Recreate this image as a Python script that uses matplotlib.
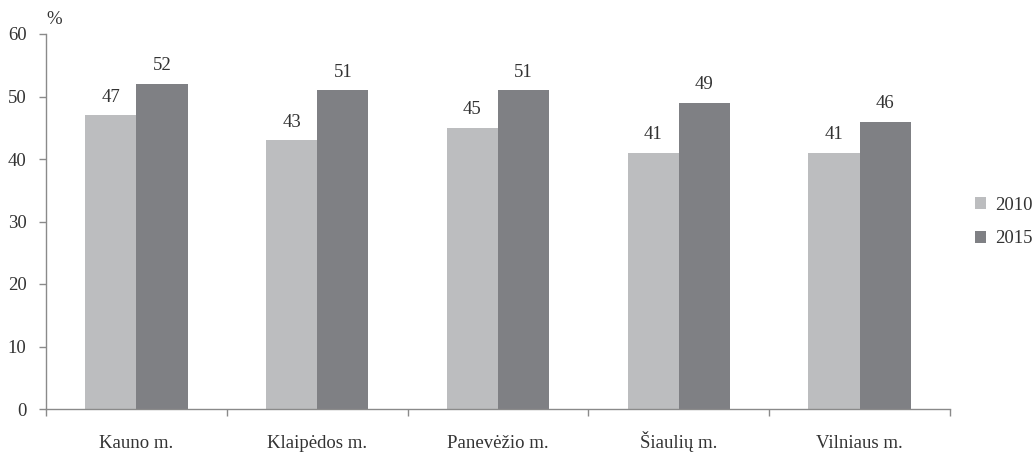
import numpy as np
import matplotlib.pyplot as plt

plt.rcParams['font.family'] = ['Liberation Serif', 'DejaVu Serif']

cities = ["Kauno m.", "Klaipėdos m.", "Panevėžio m.", "Šiaulių m.", "Vilniaus m."]
years = ["2010", "2015"]
vals_2010 = [47, 43, 45, 41, 41]
vals_2015 = [52, 51, 51, 49, 46]

col_2010 = "#bcbdbf"
col_2015 = "#7f8084"
axis_col = "#8a8a8a"
txt_col = "#333333"
fs = 13.5

fig = plt.figure(figsize=(10.32, 4.54), dpi=100)
ax = fig.add_axes([46 / 1032, 1 - 409 / 454, (950 - 46) / 1032, (409 - 34) / 454])

x = np.arange(len(cities))
w = 0.283
b1 = ax.bar(x - w / 2, vals_2010, w, color=col_2010, label=years[0])
b2 = ax.bar(x + w / 2, vals_2015, w, color=col_2015, label=years[1])

for bars, vals in ((b1, vals_2010), (b2, vals_2015)):
    for r, v in zip(bars, vals):
        ax.annotate(str(v), (r.get_x() + r.get_width() / 2, v), xytext=(0, 7),
                    textcoords="offset points", ha="center", va="bottom",
                    fontsize=fs, color=txt_col)

ax.set_xlim(-0.5, len(cities) - 0.5)
ax.set_ylim(0, 60)
ax.set_yticks(range(0, 61, 10))

ax.set_xticks(x)
ax.set_xticklabels(cities, va="baseline")
ax.set_xticks(np.arange(-0.5, len(cities), 1.0), minor=True)
ax.tick_params(axis="x", which="major", length=0, pad=28, labelsize=fs, labelcolor=txt_col)
ax.tick_params(axis="x", which="minor", length=5, width=1, color=axis_col, direction="out")
ax.tick_params(axis="y", length=5, width=1, color=axis_col, direction="out", pad=9,
               labelsize=fs, labelcolor=txt_col)

for s in ("top", "right"):
    ax.spines[s].set_visible(False)
for s in ("left", "bottom"):
    ax.spines[s].set_color(axis_col)
    ax.spines[s].set_linewidth(1)

fig.text(46 / 1032, 1 - 20 / 454, "%", fontsize=fs, color=txt_col, ha="left", va="center")

leg = ax.legend(loc="center left", bbox_to_anchor=(975 / 1032, 1 - 222 / 454),
                bbox_transform=fig.transFigure, frameon=False, fontsize=fs,
                handlelength=0.6, handleheight=0.6, handletextpad=0.5, labelspacing=0.9,
                borderpad=0, borderaxespad=0)
for t in leg.get_texts():
    t.set_color(txt_col)

fig.savefig("out.png", dpi=100)
